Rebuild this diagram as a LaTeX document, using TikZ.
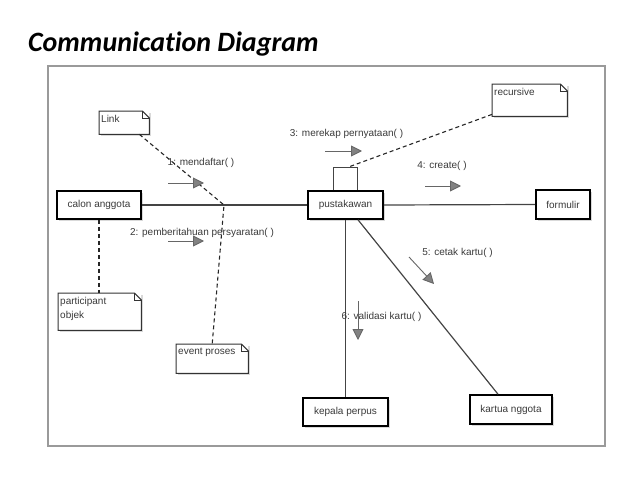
\documentclass[tikz,border=0pt]{standalone}
\usepackage{fontspec}
\setmainfont{Liberation Sans}
\newfontfamily\titlefont[Ligatures=NoCommon]{Carlito}
\usetikzlibrary{arrows.meta,shadows}
\definecolor{txt}{HTML}{3A3A3A}
\definecolor{lnk}{HTML}{444444}
\definecolor{frm}{HTML}{9A9A9A}
\newcommand\notebody[3]{\parbox[c][#2][t]{#1}{\raggedright #3}}
\newcommand\drawnotefold[1]{%
  \draw[noteline] (#1.south west) -- (#1.north west) -- ([xshift=-7pt]#1.north east)
    -- ([yshift=-7pt]#1.north east) -- (#1.south east) -- cycle;
  \draw[noteline] ([xshift=-7pt]#1.north east) -- ([xshift=-7pt,yshift=-7pt]#1.north east)
    -- ([yshift=-7pt]#1.north east);}
\tikzset{
  obj/.style={draw=black, line width=1.6pt, fill=white, text=txt,
    font=\fontsize{10}{12}\selectfont, inner sep=0pt,
    drop shadow={shadow xshift=2pt, shadow yshift=-2pt, fill=gray!30, opacity=1}},
  note/.style={draw=none, fill=white, anchor=north west, inner xsep=2pt, inner ysep=4pt, text=txt,
    font=\fontsize{10}{14}\selectfont, align=left,
    drop shadow={shadow xshift=2pt, shadow yshift=-2pt, fill=gray!30, opacity=1}},
  noteline/.style={draw=black!80, line width=1pt},
  assoc/.style={draw=lnk, line width=1.2pt},
  dashline/.style={draw=black!85, line width=1.1pt, dash pattern=on 4pt off 3pt},
  msg/.style={draw=black!60, line width=0.9pt,
    -{Triangle[length=11pt,width=11pt,fill=gray!60!black!70]}},
  msglabel/.style={text=txt, font=\fontsize{10}{12}\selectfont, inner sep=0pt}
}
\begin{document}
\begin{tikzpicture}[x=1pt,y=-1pt]
\useasboundingbox (0,0) rectangle (638,479);
\node[anchor=base west, inner sep=0pt, font=\titlefont\bfseries\itshape\fontsize{28}{32}\selectfont] (title) at (28,51) {Communication Diagram};
\draw[frm, line width=1.3pt] (48,66) rectangle (605,446);

% objects
\node[obj, minimum width=84pt, minimum height=28pt] (ca) at (99,205) {calon anggota};
\node[obj, minimum width=75pt, minimum height=28pt] (pk) at (345.5,205) {pustakawan};
\node[obj, minimum width=54pt, minimum height=29pt] (fm) at (563,204.5) {formulir};
\node[obj, minimum width=85pt, minimum height=28pt] (kp) at (345.5,412) {kepala perpus};
\node[obj, minimum width=82pt, minimum height=29pt] (kn) at (511,409.5) {kartua nggota};

% notes
\node[note] (lk) at (99,111) {\notebody{46pt}{15pt}{Link}};
\node[note] (rc) at (492,84) {\notebody{71pt}{24pt}{recursive}};
\node[note] (po) at (58,293) {\notebody{79pt}{29pt}{participant\\objek}};
\node[note] (ev) at (176,344) {\notebody{68pt}{21pt}{event proses}};
\drawnotefold{lk}
\drawnotefold{rc}
\drawnotefold{po}
\drawnotefold{ev}

% links
\draw[assoc] (ca.east) -- (pk.west);
\draw[assoc] (pk.east) -- (fm.west);
\draw[assoc] (pk.south) -- (kp.north);
\draw[assoc] ([xshift=12.5pt]pk.south) -- ([xshift=-13pt]kn.north);
\coordinate (lpa) at ([xshift=-12.5pt]pk.north);
\coordinate (lpb) at ([xshift=11.5pt]pk.north);
\coordinate (lptop) at ([xshift=2.5pt,yshift=23pt]pk.north);
\draw[assoc, line width=1pt] (lpa) -- ++(0,-23) -- ++(24,0) -- (lpb);

% dashed note connectors
\coordinate (j1) at (224,205);
\draw[dashline] ([xshift=-10pt]lk.south east) -- (j1) -- (ev.north);
\draw[dashline] (ca.south) -- (po.north -| ca.south);
\draw[dashline] ([yshift=2pt]rc.south west) -- (lptop);

% messages
\coordinate (m1a) at (168,183); \coordinate (m1b) at (204,183);
\coordinate (m2a) at (168,241); \coordinate (m2b) at (204,241);
\coordinate (m3a) at (325,151); \coordinate (m3b) at (362,151);
\coordinate (m4a) at (425,186); \coordinate (m4b) at (461,186);
\coordinate (m5a) at (409,257); \coordinate (m5b) at (434,284);
\coordinate (m6a) at (358,301); \coordinate (m6b) at (358,340);
\draw[msg] (m1a) -- (m1b);
\draw[msg] (m2a) -- (m2b);
\draw[msg] (m3a) -- (m3b);
\draw[msg] (m4a) -- (m4b);
\draw[msg] (m5a) -- (m5b);
\draw[msg] (m6a) -- (m6b);
\node[msglabel] (l1) at (201,163) {1: mendaftar( )};
\node[msglabel] (l2) at (202,233) {2: pemberitahuan persyaratan( )};
\node[msglabel] (l3) at (346.5,134) {3: merekap pernyataan( )};
\node[msglabel] (l4) at (442,166) {4: create( )};
\node[msglabel] (l5) at (457.5,253) {5: cetak kartu( )};
\node[msglabel] (l6) at (381.5,317) {6: validasi kartu( )};
\end{tikzpicture}
\end{document}
